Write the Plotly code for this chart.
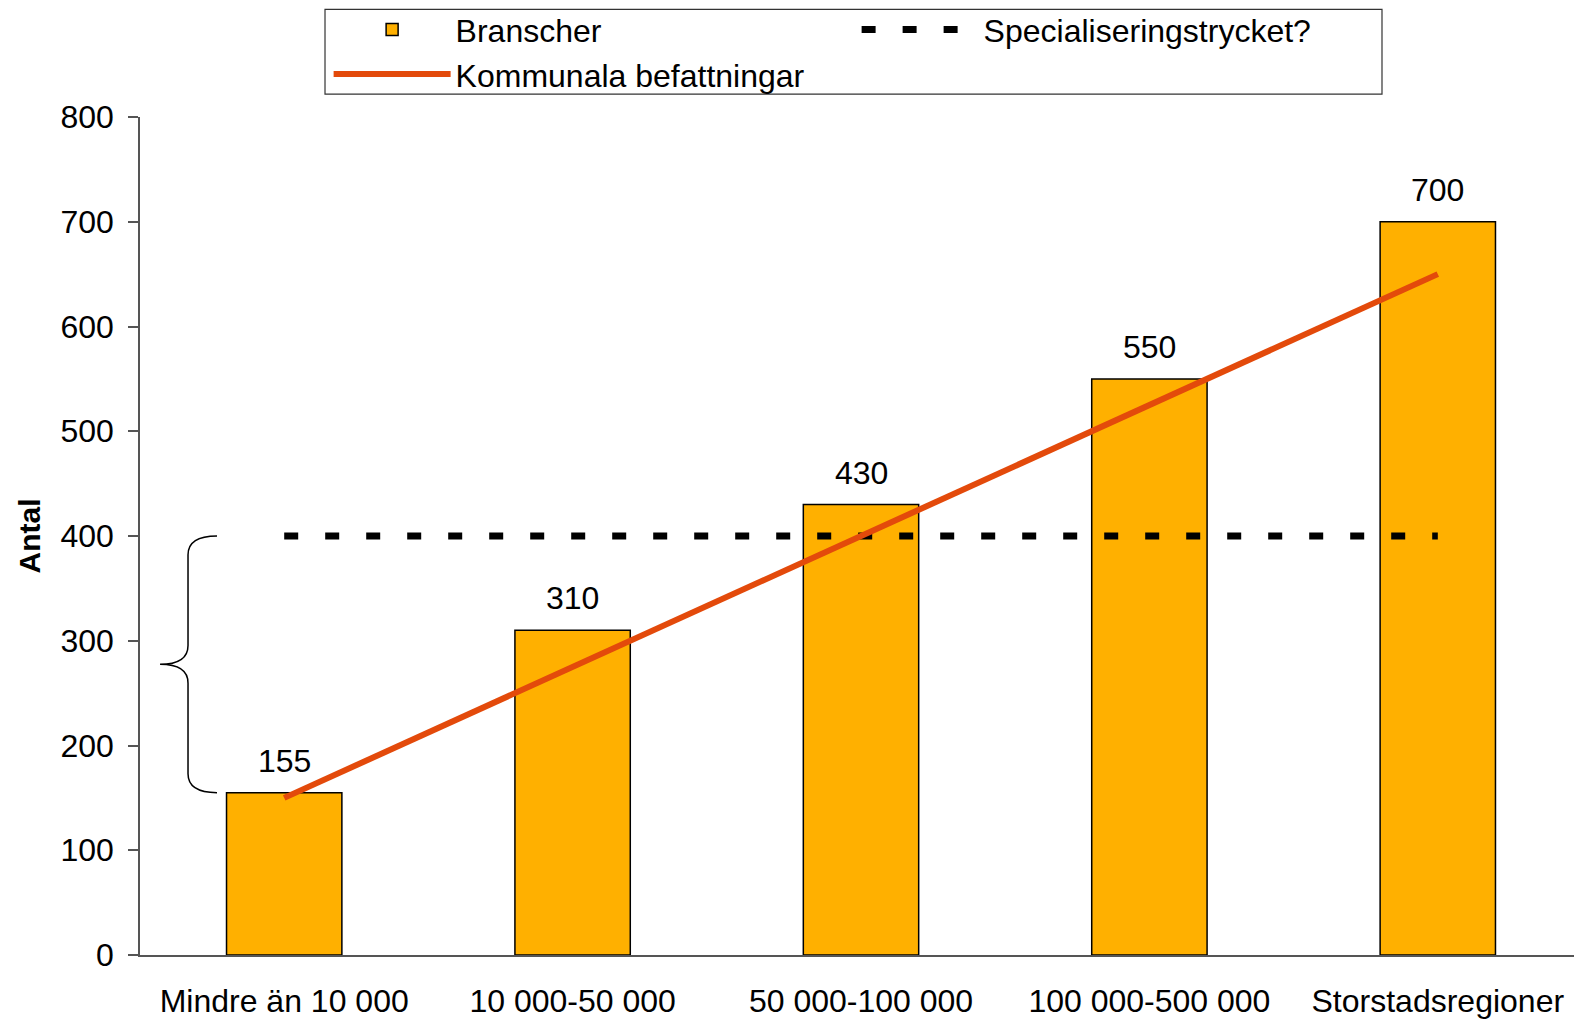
import plotly.graph_objects as go

categories = ["Mindre än 10 000", "10 000-50 000", "50 000-100 000", "100 000-500 000", "Storstadsregioner"]
branscher = [155, 310, 430, 550, 700]
kommunala = [150, 275, 400, 525, 650]
special = [400, 400, 400, 400, 400]
y_ticks = [0, 100, 200, 300, 400, 500, 600, 700, 800]

FONT = "Liberation Sans, Arial, sans-serif"
BAR_COLOR = "#FFB000"
LINE_COLOR = "#E34A0B"

fig = go.Figure()
fig.add_trace(go.Bar(
    x=categories, y=branscher, name="Branscher", width=0.4,
    marker=dict(color=BAR_COLOR, line=dict(color="black", width=1.5)),
))
fig.add_trace(go.Scatter(
    x=categories, y=special, name="Specialiseringstrycket?", mode="lines",
    line=dict(color="black", width=7, dash="14px,27px"),
))
fig.add_trace(go.Scatter(
    x=categories, y=kommunala, name="Kommunala befattningar", mode="lines",
    line=dict(color=LINE_COLOR, width=6),
))

for c, v in zip(categories, branscher):
    fig.add_annotation(x=c, y=v, text=str(v), showarrow=False, yanchor="bottom",
                       yshift=12, font=dict(size=32, color="black", family=FONT))

# brace from first bar top to the threshold line
lo, hi = branscher[0], special[0]
mid = (lo + hi) / 2
xe, xv, xt = 0.0534, 0.0333, 0.0139
r = 18
path = (f"M {xe},{hi} Q {xv},{hi} {xv},{hi - r} L {xv},{mid + r} "
        f"Q {xv},{mid} {xt},{mid} Q {xv},{mid} {xv},{mid - r} "
        f"L {xv},{lo + r} Q {xv},{lo} {xe},{lo}")
fig.add_shape(type="path", path=path, xref="paper", yref="y",
              line=dict(color="black", width=1.5))

# legend frame
fig.add_shape(type="rect", xref="paper", yref="paper",
              x0=0.1283, x1=0.8613, y0=1.0274, y1=1.1285,
              line=dict(color="#333", width=1.2), fillcolor="rgba(0,0,0,0)", layer="below")

fig.update_layout(
    width=1574, height=1012,
    margin=dict(l=132, r=0, t=109, b=65, autoexpand=False),
    plot_bgcolor="white", paper_bgcolor="white",
    font=dict(family=FONT, size=32, color="black"),
    showlegend=True,
    legend=dict(
        orientation="h", x=0.1308, y=1.137, xanchor="left", yanchor="top",
        entrywidth=396, entrywidthmode="pixels",
        borderwidth=0, bgcolor="rgba(0,0,0,0)",
        font=dict(size=32, family=FONT), itemwidth=117, tracegroupgap=0,
    ),
    xaxis=dict(
        range=[-0.5, 4.5], showline=True, linecolor="#555", linewidth=1.5,
        ticks="", showgrid=False, ticklabelstandoff=17, automargin=False,
        tickfont=dict(size=32),
    ),
    yaxis=dict(
        range=[0, 800], tickvals=y_ticks, showline=True, linecolor="#555", linewidth=1.5,
        ticks="outside", ticklen=10, tickcolor="#555", tickwidth=1.5,
        showgrid=False, zeroline=False, ticklabelstandoff=8, automargin=False,
        tickfont=dict(size=32),
        title=dict(text="<b>Antal</b>", font=dict(size=30), standoff=11),
    ),
)

fig.write_html("out.html")
